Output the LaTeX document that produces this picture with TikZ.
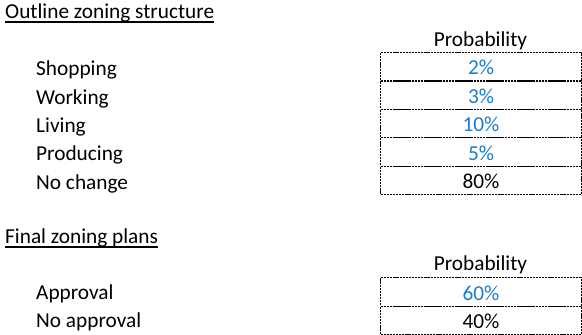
\documentclass[tikz,border=0pt]{standalone}
\usepackage{fontspec}
\setmainfont{Carlito}
\definecolor{valblue}{HTML}{1A7BD0}
\tikzset{
  every node/.style={font=\fontsize{21.3}{25}\selectfont, inner sep=0pt},
  heading/.style={anchor=base west},
  itemlabel/.style={anchor=base west},
  cell/.style={draw=black, line width=1.1pt, dash pattern=on 2.2pt off 0.9pt,
    minimum width=201pt, text width=201pt, align=center,
    text height=22.4pt, text depth=6pt, inner xsep=0pt, inner ysep=0pt, anchor=north west},
  colhead/.style={anchor=base},
  ulined/.style={line width=1.4pt}
}
\begin{document}
\begin{tikzpicture}[x=1pt,y=-1pt]
\useasboundingbox (0,0) rectangle (582,335);

% ---- Outline zoning structure ----
\node[heading] (h1) at (5,18.5) {Outline zoning structure};
\draw[ulined] ([yshift=-3.5pt]h1.base west) -- ([yshift=-3.5pt]h1.base east);

\node[colhead] (p1) at (480.5,46.5) {Probability};

\node[cell, text=valblue] (c1) at (380,52.0) {2\%};
\node[cell, text=valblue] (c2) at (380,80.4) {3\%};
\node[cell, text=valblue] (c3) at (380,108.8) {10\%};
\node[cell, text=valblue] (c4) at (380,137.2) {5\%};
\node[cell] (c5) at (380,165.6) {80\%};

\node[itemlabel] (l1) at (36,75.7) {Shopping};
\node[itemlabel] (l2) at (36,104.1) {Working};
\node[itemlabel] (l3) at (36,132.5) {Living};
\node[itemlabel] (l4) at (36,160.9) {Producing};
\node[itemlabel] (l5) at (36,189.3) {No change};

% ---- Final zoning plans ----
\node[heading] (h2) at (5,243.3) {Final zoning plans};
\draw[ulined] ([yshift=-3.5pt]h2.base west) -- ([yshift=-3.5pt]h2.base east);

\node[colhead] (p2) at (480.5,270.7) {Probability};

\node[cell, text=valblue] (d1) at (380,277.3) {60\%};
\node[cell] (d2) at (380,305.7) {40\%};

\node[itemlabel] (m1) at (36,299.3) {Approval};
\node[itemlabel] (m2) at (36,327.7) {No approval};
\end{tikzpicture}
\end{document}
